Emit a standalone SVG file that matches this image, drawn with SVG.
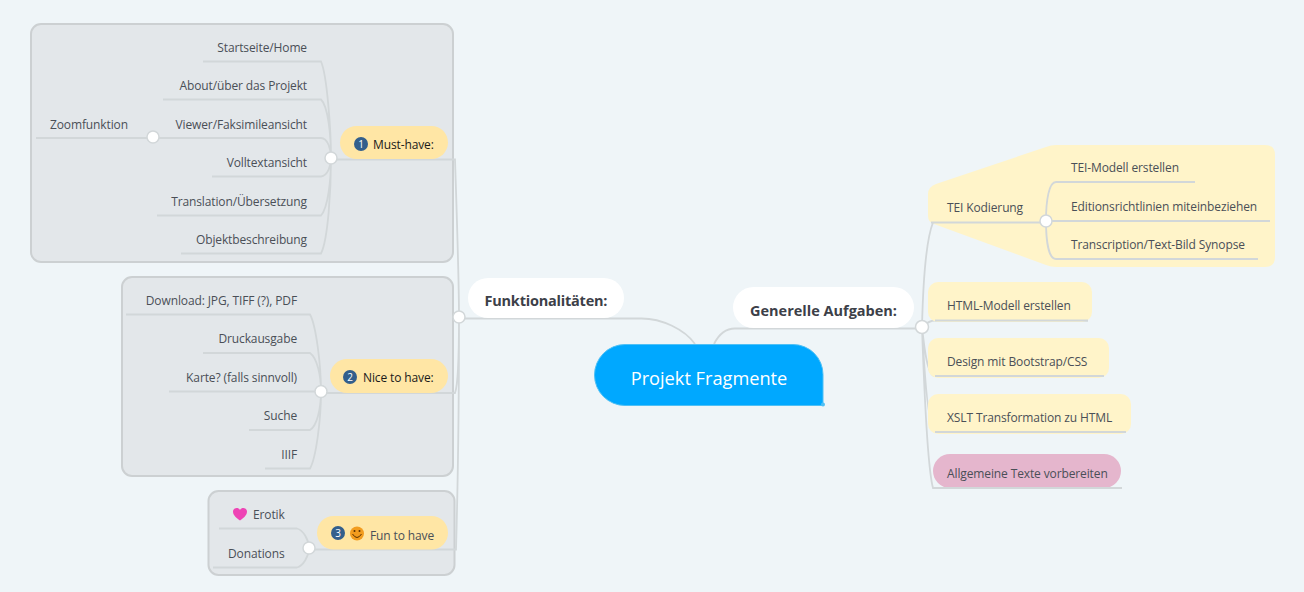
<svg xmlns="http://www.w3.org/2000/svg" width="1304" height="592" viewBox="0 0 1304 592">
<style>
text{font-family:"Open Sans","Noto Sans","Liberation Sans",sans-serif;font-size:12px;letter-spacing:-.12px;fill:#4a4f57}
.r{text-anchor:end}
.b{font-weight:700;font-size:14.5px;letter-spacing:0;fill:#3c4048}
.k{fill:#1a1a1a}
.group{fill:#e3e7ea;stroke:#ccd0d2;stroke-width:2}
.pill{fill:#ffe6a5}
.task{fill:#fff4c9}
.wp{fill:#fff}
.l{fill:none;stroke:#d2d7d9;stroke-width:1.800}
.hub{fill:#fff;stroke:#d2d7d9;stroke-width:1.500}
.badge{fill:#335f8c}
.n{fill:#fff;font-size:10px;text-anchor:middle}
</style>
<rect width="1304" height="592" fill="#eff5f8"/>
<rect class="group" x="31" y="24" width="422" height="238" rx="10"/>
<rect class="group" x="122" y="277" width="331" height="199" rx="10"/>
<rect class="group" x="208.500" y="491" width="246" height="84" rx="10"/>
<g id="boundary-tei"><path class="task" d="M936 184L1046 147Q1051 145 1056 145H1265Q1275 145 1275 155V257Q1275 267 1265 267H1056Q1051 267 1046 265L934 224Q928 222 928 216V194Q928 187 936 184Z"/></g>
<g id="connectors">
<path class="l" d="M203 61.500H321C327 75 331 130 331 158M163 99.500H321C328 106 331 135 331 158M36 138H321C328 138 331 150 331 158M212 176.500H321C328 176 331 165 331 158M157 215.500H321C328 208 331 180 331 158M181 253.500H321C328 240 331 190 331 158"/>
<path class="l" d="M331 159.500H455C457 220 459 280 459 317M321 393H455C458 385 459 345 459 317M309 549.500H456C458 480 459 380 459 317"/>
<path class="l" d="M126 314.500H310C316 325 321 365 321 391.500M203 353H310C317 358 321 375 321 391.500M169 391.500H321M249 430H310C317 426 321 408 321 391.500M265 468.500H310C316 458 321 420 321 391.500"/>
<path class="l" d="M219 528.500H297C303 530 309 540 309 548M213 567.500H297C303 566 309 556 309 548"/>
<path class="l" d="M459 318.500H640C662 318 685 330 695 344M714 344C719 334 726 328.500 735 328.500H922"/>
<path class="l" d="M931 222.500H1046M922 327C923 285 926 240 933 222.500M922 327C925 325 928 320.500 935 320.500H1088M922 327C924 345 927 376 935 376H1104M922 327C924 365 928 432 935 432H1126M922 327C924 385 928 470 933 488H1122"/>
<path class="l" d="M1046 221C1046 200 1049 182 1056 182H1195M1046 221H1270M1046 221C1046 242 1049 259 1056 259H1258"/>
</g>
<g id="root"><path d="M625 344.500H793A30 30 0 0 1 823 374.500V405.500H625A30.500 30.500 0 0 1 625 344.500Z" fill="#00a8ff" stroke="#4fc0f5" stroke-width="1"/><circle cx="823" cy="404.500" r="2" fill="#4fc0f5"/><text x="709" y="385" text-anchor="middle" style="font-size:18.200px;letter-spacing:0;fill:#fff">Projekt Fragmente</text></g>
<g id="funktionalitaeten"><rect class="wp" x="468" y="278" width="156" height="40" rx="20"/><text class="b" x="546" y="306" text-anchor="middle" textLength="123">Funktionalitäten:</text></g>
<g id="generelle"><rect class="wp" x="733" y="287" width="181" height="41" rx="20.500"/><text class="b" x="823.500" y="316" text-anchor="middle">Generelle Aufgaben:</text></g>
<g id="must"><rect class="pill" x="340" y="126" width="108" height="33" rx="16.500"/><circle class="badge" cx="361" cy="144" r="7"/><text class="n" x="361" y="147.500">1</text><text class="k" x="373" y="148.500">Must-have:</text></g>
<g id="nice"><rect class="pill" x="330" y="359" width="118" height="34" rx="17"/><circle class="badge" cx="350" cy="377" r="7"/><text class="n" x="350" y="380.500">2</text><text class="k" x="363" y="382">Nice to have:</text></g>
<g id="fun"><rect class="pill" x="317" y="516" width="131" height="33.500" rx="16.500"/><circle class="badge" cx="338" cy="533" r="7"/><text class="n" x="338" y="536.500">3</text><circle cx="357" cy="533.500" r="7" fill="#f29c1f"/><path d="M352.500 534Q357 541 361.500 534" fill="none" stroke="#5a3000" stroke-width="1"/><circle cx="354.500" cy="531" r="1" fill="#5a3000"/><circle cx="359.500" cy="531" r="1" fill="#5a3000"/><text x="370" y="540">Fun to have</text></g>
<g id="startseite"><text class="r" x="307" y="52">Startseite/Home</text></g>
<g id="about"><text class="r" x="307" y="90">About/über das Projekt</text></g>
<g id="viewer"><text class="r" x="307" y="129">Viewer/Faksimileansicht</text></g>
<g id="zoomfunktion"><text x="50" y="129">Zoomfunktion</text></g>
<g id="volltext"><text class="r" x="307" y="167">Volltextansicht</text></g>
<g id="translation"><text class="r" x="307" y="206">Translation/Übersetzung</text></g>
<g id="objekt"><text class="r" x="307" y="244">Objektbeschreibung</text></g>
<g id="download"><text class="r" x="297" y="305">Download: JPG, TIFF (?), PDF</text></g>
<g id="druck"><text class="r" x="297" y="343">Druckausgabe</text></g>
<g id="karte"><text class="r" x="297" y="382">Karte? (falls sinnvoll)</text></g>
<g id="suche"><text class="r" x="297" y="420">Suche</text></g>
<g id="iiif"><text class="r" x="297" y="459">IIIF</text></g>
<g id="erotik"><path d="M240 520.500C235 517 233 514.500 233 511.500C233 508 238 506.500 240 510C242 506.500 247 508 247 511.500C247 514.500 245 517 240 520.500Z" fill="#ee44b5"/><text x="253" y="519">Erotik</text></g>
<g id="donations"><text x="228" y="558">Donations</text></g>
<g id="tei"><text x="947" y="212">TEI Kodierung</text></g>
<g id="tei-modell"><text x="1071" y="172">TEI-Modell erstellen</text></g>
<g id="richtlinien"><text x="1071" y="211">Editionsrichtlinien miteinbeziehen</text></g>
<g id="transcription"><text x="1071" y="249">Transcription/Text-Bild Synopse</text></g>
<g id="html"><rect class="task" x="928" y="282" width="164" height="40" rx="10"/><path class="l" d="M935 320.500H1088"/><text x="947" y="310">HTML-Modell erstellen</text></g>
<g id="design"><rect class="task" x="928" y="338" width="181" height="40" rx="10"/><path class="l" d="M935 376H1104"/><text x="947" y="366">Design mit Bootstrap/CSS</text></g>
<g id="xslt"><rect class="task" x="928" y="394" width="203" height="40" rx="10"/><path class="l" d="M935 432H1126"/><text x="947" y="422">XSLT Transformation zu HTML</text></g>
<g id="allgemein"><rect x="933" y="454" width="188" height="34" rx="17" fill="#e5b6cd"/><path class="l" d="M933 488H1122"/><text x="947" y="478">Allgemeine Texte vorbereiten</text></g>
<g id="hubs"><circle class="hub" cx="331" cy="158" r="6"/><circle class="hub" cx="153" cy="137" r="6"/><circle class="hub" cx="321" cy="391.500" r="6"/><circle class="hub" cx="309" cy="548" r="6"/><circle class="hub" cx="459" cy="317" r="6"/><circle class="hub" cx="922" cy="327" r="6.500"/><circle class="hub" cx="1046" cy="221" r="6"/></g>
</svg>
